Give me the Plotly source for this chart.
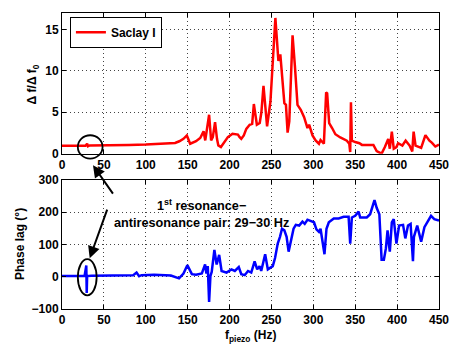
import plotly.graph_objects as go
from plotly.subplots import make_subplots

# ---- data: top panel (normalised frequency shift) ----
f_top = [0, 10, 20, 28, 30, 31, 33, 40, 60, 80, 100, 120, 135, 140, 145, 149, 150, 153,
         160, 165, 169, 171, 175.6, 178, 180, 182.7, 185, 186.6, 189.7, 194, 198, 203.5,
         207, 210, 212, 214, 217, 220, 224, 227, 229, 232.6, 236, 238, 240.5, 244.8, 248.8,
         252.4, 254.7, 256.7, 258.3, 260.6, 263.4, 265.4, 267.3, 269.3, 271.3, 275.2, 278,
         281.1, 285, 289, 293, 295, 299, 302.7, 306.7, 308.6, 312.6, 315.3, 316.5, 318.9,
         322.4, 326.3, 332.2, 340, 342.9, 344, 344.9, 346, 350, 355, 358, 371.7, 375.6,
         381.5, 385.4, 389.4, 391.3, 393.7, 396, 399.2, 401.2, 406.3, 410.2, 414.9, 418.1,
         419.7, 422, 428.7, 433.8, 438.6, 441.7, 445.6, 450]
ratio = [0.95, 0.95, 0.95, 0.95, 1.2, 0.9, 1.0, 1.0, 1.0, 1.05, 1.1, 1.2, 1.3, 1.5, 1.8, 2.2, 1.9, 1.2,
         1.5, 1.9, 2.7, 1.6, 4.7, 1.6, 2.0, 3.8, 1.8, 1.0, 0.8, 1.5, 2.0, 2.4,
         2.3, 2.3, 2.0, 1.8, 2.2, 3.0, 3.5, 3.6, 6.0, 3.5, 3.7, 5.0, 8.2, 3.3, 6.3,
         13.0, 16.4, 13.5, 11.2, 12.0, 8.6, 6.1, 5.9, 2.55, 3.9, 14.3, 10.6,
         5.9, 5.3, 4.4, 3.1, 3.5, 2.2, 1.6, 1.2, 1.65, 1.2, 7.4, 7.3, 3.7,
         3.1, 2.35, 1.96, 1.57, 1.2, 0.2, 6.2, 1.57, 1.4, 1.26, 1.06, 1.06, 0.3,
         0.0, 0.8, 1.77, 0.6, 2.67, 0.6, 0.8, 1.26, 0.98, 1.57, 0.98, 0.27,
         2.67, 0.98, 0.7, 2.24, 1.57, 1.3, 0.86, 1.1]

# ---- data: bottom panel (phase lag, degrees) ----
f_bot = [0, 10, 20, 27, 29, 29.5, 30, 35, 50, 70, 85, 89, 92, 95, 110, 130, 139.7, 145, 149.6,
         155, 160, 166.9, 170.8, 172.4, 174, 175.6, 177.2, 178.7, 181.9, 184.6, 187.6, 190.5,
         196.4, 202.3, 206.3, 211, 214, 218.1, 222, 225.9, 229.9, 233, 235.8, 237.8, 242.5,
         245.7, 251.6, 254.3, 257.5, 260.2, 262.6, 265.4, 268.1, 270.5, 273.2, 276.4, 279.1,
         283.1, 287, 289.7, 293, 296.8, 300.8, 303.7, 306.7, 308.6, 313.3, 315.7, 318.5,
         324.4, 330.3, 336.2, 342.1, 344, 346, 350, 354, 355.9, 363.8, 367.8, 370.6, 373,
         375.6, 378.8, 381.5, 384.2, 386.6, 388.6, 390.1, 391.3, 393.7, 396, 399.2, 402.4,
         407.1, 409.8, 413, 416.1, 418.9, 420.1, 424, 428.7, 432.6, 436.6, 440.5, 444.4, 450]
phase = [2, 3, 2, 3, 35, -50, 2, 3, 4, 4, 5, 13, 2, 5, 6, 4, -5, 10, 36,
         8, 6, 10, 38, 10, 33, -78, 3, 15, 83, 38, 68, 18,
         13, 23, 18, 30, 8, 5, 18, 13, 48, 23, 33, 18, 70,
         23, 33, 58, 103, 124, 149, 144, 124, 78, 114, 149, 161,
         159, 171, 164, 177, 174, 169, 147, 139, 149, 70, 149, 169,
         181, 181, 186, 186, 103, 184, 189, 202, 184, 184, 194, 220, 238,
         214, 194, 53, 53, 88, 144, 103, 78, 169, 179, 103, 159,
         161, 119, 159, 164, 48, 124, 159, 109, 154, 174, 189, 179, 174]

x_ticks = list(range(0, 451, 50))
top_ticks = [0, 5, 10, 15]
bot_ticks = [-100, 0, 100, 200, 300]

FONT = "Liberation Sans"

fig = make_subplots(rows=2, cols=1, vertical_spacing=0.0)
fig.add_trace(go.Scatter(x=f_top, y=ratio, mode="lines", name="Saclay I",
                         line=dict(color="#ff0000", width=2.5)), row=1, col=1)
fig.add_trace(go.Scatter(x=f_bot, y=phase, mode="lines", name="phase", showlegend=False,
                         line=dict(color="#0000ff", width=2.5)), row=2, col=1)

axis_common = dict(showline=True, linecolor="black", linewidth=1, mirror="allticks",
                   ticks="inside", ticklen=4, tickcolor="black", showgrid=True,
                   gridcolor="#444444", gridwidth=1, griddash="1px,3px", zeroline=False,
                   tickfont=dict(family=FONT, size=12, color="black", weight="bold"))

fig.update_layout(
    width=455, height=351,
    margin=dict(l=62, r=12, t=6, b=42),
    paper_bgcolor="white", plot_bgcolor="white",
    font=dict(family=FONT, size=12, color="black", weight="bold"),
    showlegend=True,
    legend=dict(x=0.021, y=0.987, xanchor="left", yanchor="top",
                bgcolor="white", bordercolor="black", borderwidth=1,
                font=dict(family=FONT, size=12, color="black", weight="bold"),
                tracegroupgap=0, itemwidth=30),
    xaxis=dict(domain=[0, 1], range=[0, 450], tickvals=x_ticks, anchor="y", **axis_common),
    yaxis=dict(domain=[0.5248, 1.0], range=[0, 17], tickvals=top_ticks, anchor="x", **axis_common),
    xaxis2=dict(domain=[0, 1], range=[0, 450], tickvals=x_ticks, anchor="y2", **axis_common),
    yaxis2=dict(domain=[0.0, 0.4356], range=[-100, 300], tickvals=bot_ticks, anchor="x2", **axis_common),
)

# axis titles as annotations
fig.add_annotation(text="\u0394 f/\u0394 f<sub>0</sub>", xref="paper", yref="paper",
                   x=-0.076, y=0.76, textangle=-90, showarrow=False,
                   xanchor="center", yanchor="middle", font=dict(size=12))
fig.add_annotation(text="Phase lag (\u00b0)", xref="paper", yref="paper",
                   x=-0.110, y=0.218, textangle=-90, showarrow=False,
                   xanchor="center", yanchor="middle", font=dict(size=12))
fig.add_annotation(text="f<sub>piezo</sub> (Hz)", xref="paper", yref="paper",
                   x=0.5, y=-0.09, showarrow=False,
                   xanchor="center", yanchor="middle", font=dict(size=12))

# explanatory text
fig.add_annotation(text="1<sup>st</sup> resonance\u2212<br>antiresonance pair: 29\u221230 Hz",
                   xref="paper", yref="paper", x=0.370, y=0.3234, showarrow=False,
                   xanchor="center", yanchor="middle", align="center", font=dict(size=12.7))

# arrows
fig.add_annotation(text="", xref="paper", yref="paper", x=0.0822, y=0.486,
                   ax=21, ay=30, axref="pixel", ayref="pixel", showarrow=True,
                   arrowhead=2, arrowsize=1.2, arrowwidth=2, arrowcolor="black", standoff=0)
fig.add_annotation(text="", xref="paper", yref="paper", x=0.0735, y=0.1716,
                   ax=18, ay=-50, axref="pixel", ayref="pixel", showarrow=True,
                   arrowhead=2, arrowsize=1.2, arrowwidth=2, arrowcolor="black", standoff=0)

# ellipses
fig.add_shape(type="circle", xref="paper", yref="paper", x0=0.042, x1=0.1076, y0=0.508, y1=0.587,
              line=dict(color="black", width=1.8))
fig.add_shape(type="circle", xref="paper", yref="paper", x0=0.042, x1=0.0919, y0=0.0462, y1=0.1683,
              line=dict(color="black", width=1.8))

fig.write_html("out.html")
